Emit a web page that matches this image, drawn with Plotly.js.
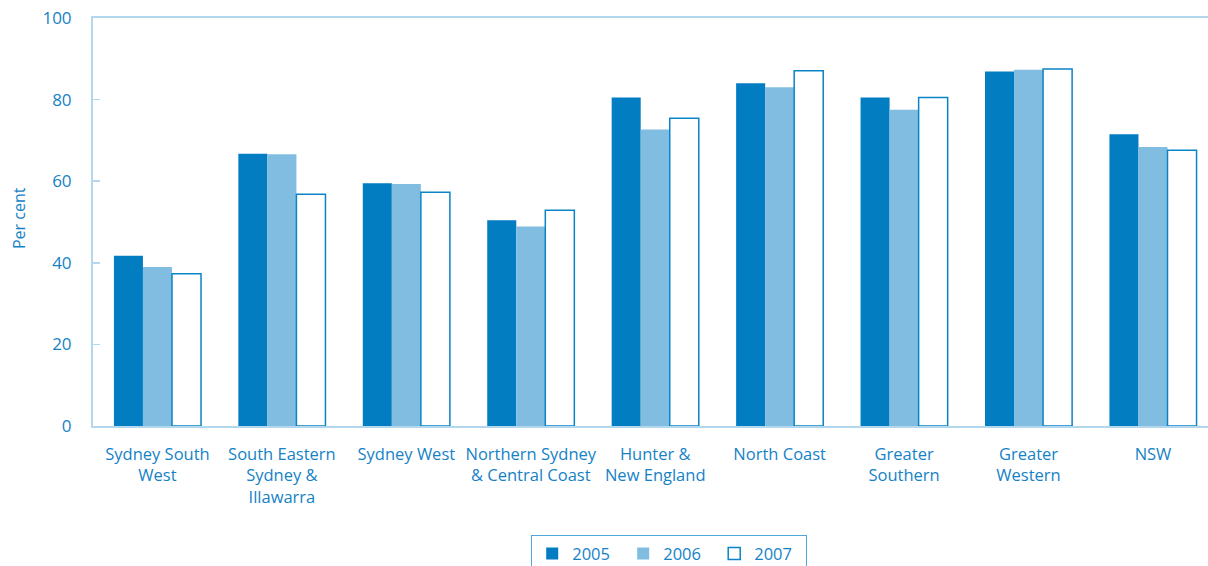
<!DOCTYPE html>
<html>
<head>
<meta charset="utf-8">
<script src="https://cdn.plot.ly/plotly-3.0.1.min.js"></script>
<style>html,body{margin:0;padding:0;background:#fff;}#chart{width:1208px;height:566px;}</style>
</head>
<body>
<div id="chart"></div>
<script>
const categories = ["Sydney South<br>West", "South Eastern<br>Sydney &<br>Illawarra", "Sydney West", "Northern Sydney<br>& Central Coast", "Hunter &<br>New England", "North Coast", "Greater<br>Southern", "Greater<br>Western", "NSW"];
const years = ["2005", "2006", "2007"];
const values2005 = [41.7, 66.7, 59.5, 50.4, 80.5, 84.0, 80.5, 86.9, 71.5];
const values2006 = [39.0, 66.6, 59.3, 48.9, 72.7, 83.0, 77.5, 87.3, 68.4];
const values2007 = [37.3, 56.8, 57.3, 52.9, 75.4, 87.1, 80.5, 87.5, 67.6];
const yTicks = [0, 20, 40, 60, 80, 100];
const yTitle = "Per cent";

const blue = "#027DC2";
const light = "#80BDE0";
const textColor = "#1582C6";
const axisColor = "#B3D7EC";

const xIdx = categories.map((c, i) => i);

const traces = [
  {type: "bar", name: years[0], x: xIdx, y: values2005, marker: {color: blue, line: {width: 0}}},
  {type: "bar", name: years[1], x: xIdx, y: values2006, marker: {color: light, line: {width: 0}}},
  {type: "bar", name: years[2], x: xIdx, y: values2007, marker: {color: "#ffffff", line: {width: 1.5, color: "#0A84C6"}}}
];

const layout = {
  width: 1208, height: 566,
  margin: {l: 93, r: 0, t: 18, b: 140},
  paper_bgcolor: "#fff", plot_bgcolor: "#fff",
  font: {family: "Open Sans, Noto Sans, sans-serif", color: textColor, size: 16},
  barmode: "group", bargap: 0.30, bargroupgap: 0,
  showlegend: true,
  xaxis: {
    range: [-0.518, 8.442],
    tickmode: "array", tickvals: xIdx, ticktext: categories,
    showline: true, linecolor: axisColor, linewidth: 2, mirror: true,
    showgrid: false, zeroline: false, ticks: "",
    ticklabelstandoff: 12,
    tickfont: {size: 16.5, color: textColor}, fixedrange: true
  },
  yaxis: {
    range: [0, 100],
    tickmode: "array", tickvals: yTicks,
    showline: true, linecolor: axisColor, linewidth: 2,
    showgrid: false, zeroline: false,
    ticks: "inside", ticklen: 7, tickcolor: axisColor, tickwidth: 1.5,
    ticklabelstandoff: 16,
    tickfont: {size: 17, color: textColor}
  },
  annotations: [{
    text: yTitle, textangle: -90, showarrow: false,
    xref: "paper", yref: "paper",
    x: (19 - 93) / 1115, xanchor: "center",
    y: (426 - 218) / 408, yanchor: "middle",
    font: {size: 16, color: textColor}
  }],
  legend: {
    orientation: "h",
    xref: "container", yref: "container",
    x: 669 / 1208, xanchor: "center",
    y: 1 - 535 / 566, yanchor: "top",
    bordercolor: "#4FA8DA", borderwidth: 1.2,
    font: {size: 16.5, color: textColor},
    itemwidth: 30,
    entrywidth: 46, entrywidthmode: "pixels",
    traceorder: "normal"
  }
};

Plotly.newPlot("chart", traces, layout, {displayModeBar: false, staticPlot: true});
</script>
</body>
</html>
